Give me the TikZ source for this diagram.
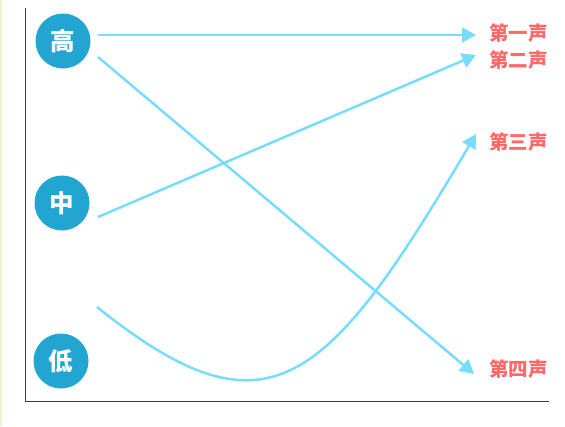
\documentclass[tikz,border=0pt]{standalone}
\usepackage{fontspec}
\newfontfamily\cjk{Noto Sans CJK SC}
\usetikzlibrary{arrows.meta}
\definecolor{circ}{RGB}{35,165,210}
\definecolor{arr}{RGB}{120,220,255}
\definecolor{lab}{RGB}{255,105,105}
\definecolor{axis}{RGB}{60,60,60}
\definecolor{strip}{RGB}{245,240,205}
\tikzset{
  tone/.style={circle,fill=circ,minimum size=55pt,inner sep=0pt,text=white,font=\cjk\bfseries\fontsize{24.5}{24.5}\selectfont},
  sound/.style={anchor=west,inner sep=0pt,text=lab,font=\cjk\bfseries\fontsize{19.5}{19.5}\selectfont},
  link/.style={draw=arr,line width=2.5pt,-{Triangle[length=14pt,width=15pt]}}
}
\begin{document}
\begin{tikzpicture}[x=1pt,y=-1pt]
\useasboundingbox (0,0) rectangle (565,426);
\fill[white] (0,0) rectangle (565,426);
\fill[strip] (0,0) rectangle (2,426);
\coordinate (ytop) at (25,8);
\coordinate (orig) at (25,401);
\coordinate (xend) at (549,401);
\draw[axis,line width=1pt] (ytop) -- (orig) -- (xend);
\node[tone] (gao) at (63,41) {高};
\node[tone] (zhong) at (62,203) {中};
\node[tone] (di) at (61,361) {低};
\node[sound] (s1) at (489,33) {第一声};
\node[sound] (s2) at (489,60) {第二声};
\node[sound] (s3) at (489,142) {第三声};
\node[sound] (s4) at (489,369) {第四声};
\coordinate (a1s) at (98,35);
\coordinate (a1e) at (476,35);
\coordinate (a2s) at (98,57);
\coordinate (a2e) at (474,374);
\coordinate (a3s) at (98,217);
\coordinate (a3e) at (476,55);
\coordinate (a4s) at (97,307);
\coordinate (a4e) at (476,134);
\draw[link] (a1s) -- (a1e);
\draw[link] (a2s) -- (a2e);
\draw[link] (a3s) -- (a3e);
\draw[link] (a4s) .. controls (267,443) and (325,390) .. (a4e);
\end{tikzpicture}
\end{document}
